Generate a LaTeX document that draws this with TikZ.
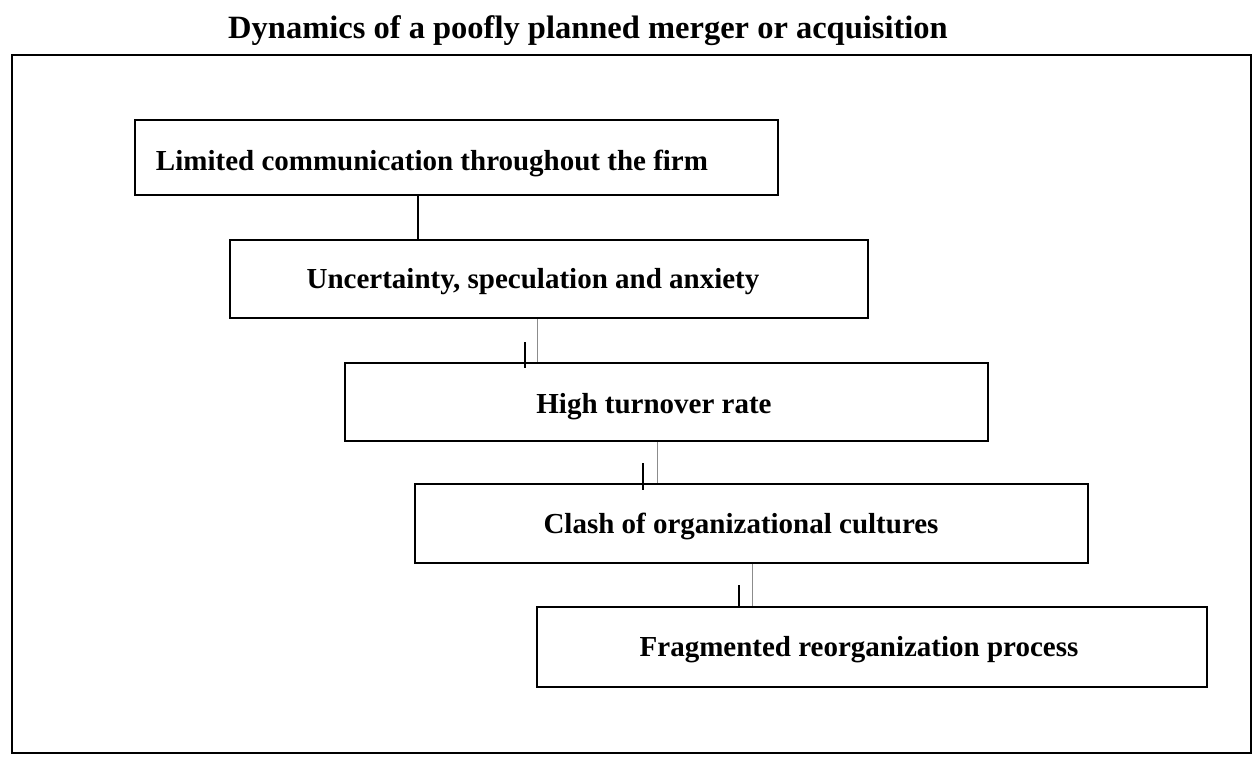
\documentclass[tikz,border=0pt]{standalone}
\usepackage{fontspec}
\setmainfont{Liberation Serif}
\usetikzlibrary{calc}
\tikzset{
  stage/.style={draw=black, line width=2.6pt, rectangle, inner sep=0pt},
  caption/.style={font=\fontsize{29}{32}\selectfont\bfseries, inner sep=0pt, anchor=center},
  heading/.style={font=\fontsize{32.5}{36}\selectfont\bfseries, inner sep=0pt, anchor=center},
  link/.style={draw=black!45, line width=0.9pt},
  firstlink/.style={draw=black, line width=1.8pt},
  tickmark/.style={draw=black, line width=2.6pt},
  frame/.style={draw=black, line width=2.8pt}
}
\begin{document}
\begin{tikzpicture}[x=1pt, y=-1pt]
\useasboundingbox (0,0) rectangle (1258,756);
\fill[white] (0,0) rectangle (1258,756);

% title and surrounding frame
\node[heading] (title) at (588,31) {Dynamics of a poofly planned merger or acquisition};
\draw[frame] (12,55) rectangle (1251,753);

% stage boxes
\node[stage, minimum width=643pt, minimum height=75pt] (b1) at (456.5,157.5) {};
\node[stage, minimum width=638pt, minimum height=78pt] (b2) at (549,279) {};
\node[stage, minimum width=643pt, minimum height=78pt] (b3) at (666.5,402) {};
\node[stage, minimum width=673pt, minimum height=79pt] (b4) at (751.5,523.5) {};
\node[stage, minimum width=670pt, minimum height=80pt] (b5) at (872,647) {};

% stage labels
\node[caption] (t1) at (432,163) {Limited communication throughout the firm};
\node[caption] (t2) at (533,282) {Uncertainty, speculation and anxiety};
\node[caption] (t3) at (654,407) {High turnover rate};
\node[caption] (t4) at (741,526) {Clash of organizational cultures};
\node[caption] (t5) at (859,650) {Fragmented reorganization process};

% connector positions
\coordinate (k1) at (418,0);
\coordinate (k2) at (537,0);
\coordinate (k3) at (657,0);
\coordinate (k4) at (752,0);
\coordinate (m2) at (525,0);
\coordinate (m3) at (643,0);
\coordinate (m4) at (739,0);

% connectors between stages
\draw[firstlink] (b1.south -| k1) -- (b2.north -| k1);
\draw[link] (b2.south -| k2) -- (b3.north -| k2);
\draw[link] (b3.south -| k3) -- (b4.north -| k3);
\draw[link] (b4.south -| k4) -- (b5.north -| k4);

% short marks above each box top
\draw[tickmark] ($(b3.north -| m2)+(0,6)$) -- ++(0,-26);
\draw[tickmark] ($(b4.north -| m3)+(0,7)$) -- ++(0,-27);
\draw[tickmark] ($(b5.north -| m4)+(0,0)$) -- ++(0,-21);
\end{tikzpicture}
\end{document}
